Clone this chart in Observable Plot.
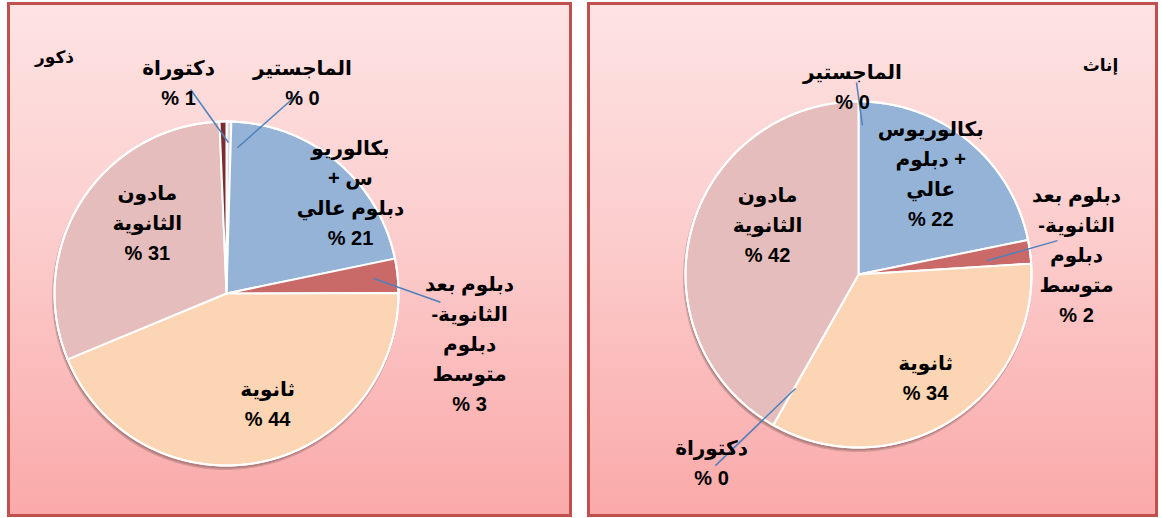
<!DOCTYPE html>
<html lang="ar">
<head>
<meta charset="utf-8">
<script src="https://cdn.jsdelivr.net/npm/d3@7"></script>
<script src="https://cdn.jsdelivr.net/npm/@observablehq/plot@0.6"></script>
<style>
  html, body { margin: 0; padding: 0; background: #ffffff; }
  body { width: 1162px; height: 518px; position: relative; overflow: hidden; }
  .panel { position: absolute; top: 2px; height: 515px;
           background: linear-gradient(180deg, #fee3e3 0%, #fcd0d0 40%, #faa9a9 100%); }
  .panel svg { position: absolute; left: 0; top: 0; }
  .panel svg text { direction: rtl; unicode-bidi: embed; }
  .frame { position: absolute; inset: 0; border: 3px solid #c0504d; box-sizing: border-box; pointer-events: none; }
</style>
</head>
<body>
<div id="male" class="panel" style="left:7px;width:565px;"></div>
<div id="female" class="panel" style="left:587px;width:571px;"></div>
<script>
// ---- data ----
const categories = ["الماجستير", "بكالوريوس + دبلوم عالي", "دبلوم بعد الثانوية- دبلوم متوسط", "ثانوية", "مادون الثانوية", "دكتوراة"];
const sliceColors = ["#dcd6e0", "#95b3d7", "#c96a68", "#fcd5b4", "#e5bdbc", "#7b2c2c"];

const maleTitle = "ذكور";
const maleOrder = ["الماجستير", "بكالوريوس + دبلوم عالي", "دبلوم بعد الثانوية- دبلوم متوسط", "ثانوية", "مادون الثانوية", "دكتوراة"];
const maleValues = [0.45, 21.3, 3.2, 43.8, 30.6, 0.65];
const maleLabels = ["الماجستير", "بكالوريو\nس +\nدبلوم عالي", "دبلوم بعد\nالثانوية-\nدبلوم\nمتوسط", "ثانوية", "مادون\nالثانوية", "دكتوراة"];

const femaleTitle = "إناث";
const femaleOrder = ["الماجستير", "بكالوريوس + دبلوم عالي", "دبلوم بعد الثانوية- دبلوم متوسط", "ثانوية", "دكتوراة", "مادون الثانوية"];
const femaleValues = [0, 21.8, 2.2, 34.2, 0, 41.8];
const femaleLabels = ["الماجستير", "بكالوريوس\n+ دبلوم\nعالي", "دبلوم بعد\nالثانوية-\nدبلوم\nمتوسط", "ثانوية", "دكتوراة", "مادون\nالثانوية"];

// ---- layout (angle shift from slice mid-angle in degrees, radius in pie radii) ----
const maleLabelLayout = {
  "الماجستير": {a: 18.8, k: 1.316},
  "بكالوريوس + دبلوم عالي": {a: 10.4, k: 0.936},
  "دبلوم بعد الثانوية- دبلوم متوسط": {a: 17.0, k: 1.44},
  "ثانوية": {a: -9.6, k: 0.669},
  "مادون الثانوية": {a: 10.1, k: 0.626},
  "دكتوراة": {a: -11.5, k: 1.27}
};
const maleLeaderLayout = {
  "الماجستير": {a0: 3.5, r0: 0.85, a1: 19.0, r1: 1.236},
  "دبلوم بعد الثانوية- دبلوم متوسط": {a0: 0.1, r0: 0.86, a1: 8.3, r1: 1.245},
  "دكتوراة": {a0: 1.9, r0: 0.878, a1: -8.8, r1: 1.204}
};
const femaleLabelLayout = {
  "الماجستير": {a: -1.8, k: 1.10},
  "بكالوريوس + دبلوم عالي": {a: -4.2, k: 0.727},
  "دبلوم بعد الثانوية- دبلوم متوسط": {a: 1.7, k: 1.267},
  "ثانوية": {a: -1.7, k: 0.698},
  "دكتوراة": {a: 8.8, k: 1.37},
  "مادون الثانوية": {a: 15.2, k: 0.607}
};
const femaleLeaderLayout = {
  "الماجستير": {a0: 1.5, r0: 0.862, a1: -0.6, r1: 1.11},
  "دبلوم بعد الثانوية- دبلوم متوسط": {a0: 1.4, r0: 0.75, a1: -2.1, r1: 1.167},
  "دكتوراة": {a0: -0.6, r0: 0.753, a1: 7.3, r1: 1.38}
};

const polar = (deg, rho) => [rho * Math.sin(deg * Math.PI / 180), rho * Math.cos(deg * Math.PI / 180)];
// right-to-left marks around each line so the Arabic lines and "N %" read as in the original
const rtl = s => s.split("\n").map(l => "\u200F" + l + "\u200F").join("\n");

function drawPanel(el, spec) {
  const {order, values, names, title, W, H, cx, cy, r, titleX, titleY, labelLayout, leaderLayout} = spec;
  const total = d3.sum(values);
  let acc = 0;
  const arcs = order.map((cat, i) => {
    const a0 = acc / total * 360; acc += values[i]; const a1 = acc / total * 360;
    return {cat, value: values[i], a0, a1, mid: (a0 + a1) / 2, name: names[i]};
  });
  const sliceRows = [];
  arcs.forEach(s => {
    sliceRows.push({cat: s.cat, x: 0, y: 0});
    const n = Math.max(1, Math.ceil((s.a1 - s.a0) / 0.5));
    for (let j = 0; j <= n; j++) {
      const [x, y] = polar(s.a0 + (s.a1 - s.a0) * j / n, 1);
      sliceRows.push({cat: s.cat, x, y});
    }
  });
  const circleRows = d3.range(0, 360, 1).map(a => { const [x, y] = polar(a, 1); return {x, y}; });
  const labelRows = arcs.map(s => {
    const L = labelLayout[s.cat];
    const [x, y] = polar(s.mid + L.a, L.k);
    return {x, y, text: rtl(s.name + "\n" + Math.round(s.value) + " %")};
  });
  const leaderRows = arcs.filter(s => leaderLayout[s.cat]).map(s => {
    const L = leaderLayout[s.cat];
    const [x1, y1] = polar(s.mid + L.a0, L.r0);
    const [x2, y2] = polar(s.mid + L.a1, L.r1);
    return {x1, y1, x2, y2};
  });

  const svg = Plot.plot({
    width: W, height: H, margin: 0,
    x: {domain: [-cx / r, (W - cx) / r], axis: null},
    y: {domain: [-(H - cy) / r, cy / r], axis: null},
    color: {domain: categories, range: sliceColors},
    style: {background: "transparent", fontFamily: "'Liberation Sans', 'DejaVu Sans', sans-serif", color: "black"},
    marks: [
      Plot.line(circleRows, {x: "x", y: "y", curve: "linear-closed", fill: "#7a5656", fillOpacity: 0.45, stroke: "#9a7070", strokeOpacity: 0.4, strokeWidth: 3, dx: -1, dy: 3}),
      Plot.line(sliceRows, {x: "x", y: "y", z: "cat", fill: "cat", stroke: "white", strokeWidth: 2, strokeLinejoin: "round", curve: "linear-closed"}),
      Plot.line(circleRows, {x: "x", y: "y", curve: "linear-closed", stroke: "white", strokeWidth: 2}),
      Plot.link(leaderRows, {x1: "x1", y1: "y1", x2: "x2", y2: "y2", stroke: "#4f81bd", strokeWidth: 1.5}),
      Plot.text(labelRows, {x: "x", y: "y", text: "text", fontSize: 20, fontWeight: "bold", lineHeight: 1.5, fill: "black", textAnchor: "middle", lineAnchor: "middle"}),
      Plot.text([title], {frameAnchor: "top-left", dx: titleX, dy: titleY, text: d => rtl(d), fontSize: 17, fontWeight: "bold", fill: "black", textAnchor: "middle", lineAnchor: "middle"})
    ]
  });
  d3.select(svg).selectAll("text").attr("direction", "rtl");
  el.appendChild(svg);
  const frame = document.createElement("div");
  frame.className = "frame";
  el.appendChild(frame);
}

drawPanel(document.getElementById("male"), {
  order: maleOrder, values: maleValues, names: maleLabels, title: maleTitle,
  W: 565, H: 515, cx: 219, cy: 291, r: 172, titleX: 47, titleY: 55,
  labelLayout: maleLabelLayout, leaderLayout: maleLeaderLayout
});
drawPanel(document.getElementById("female"), {
  order: femaleOrder, values: femaleValues, names: femaleLabels, title: femaleTitle,
  W: 571, H: 515, cx: 271, cy: 272, r: 173, titleX: 513, titleY: 63,
  labelLayout: femaleLabelLayout, leaderLayout: femaleLeaderLayout
});
</script>
</body>
</html>
